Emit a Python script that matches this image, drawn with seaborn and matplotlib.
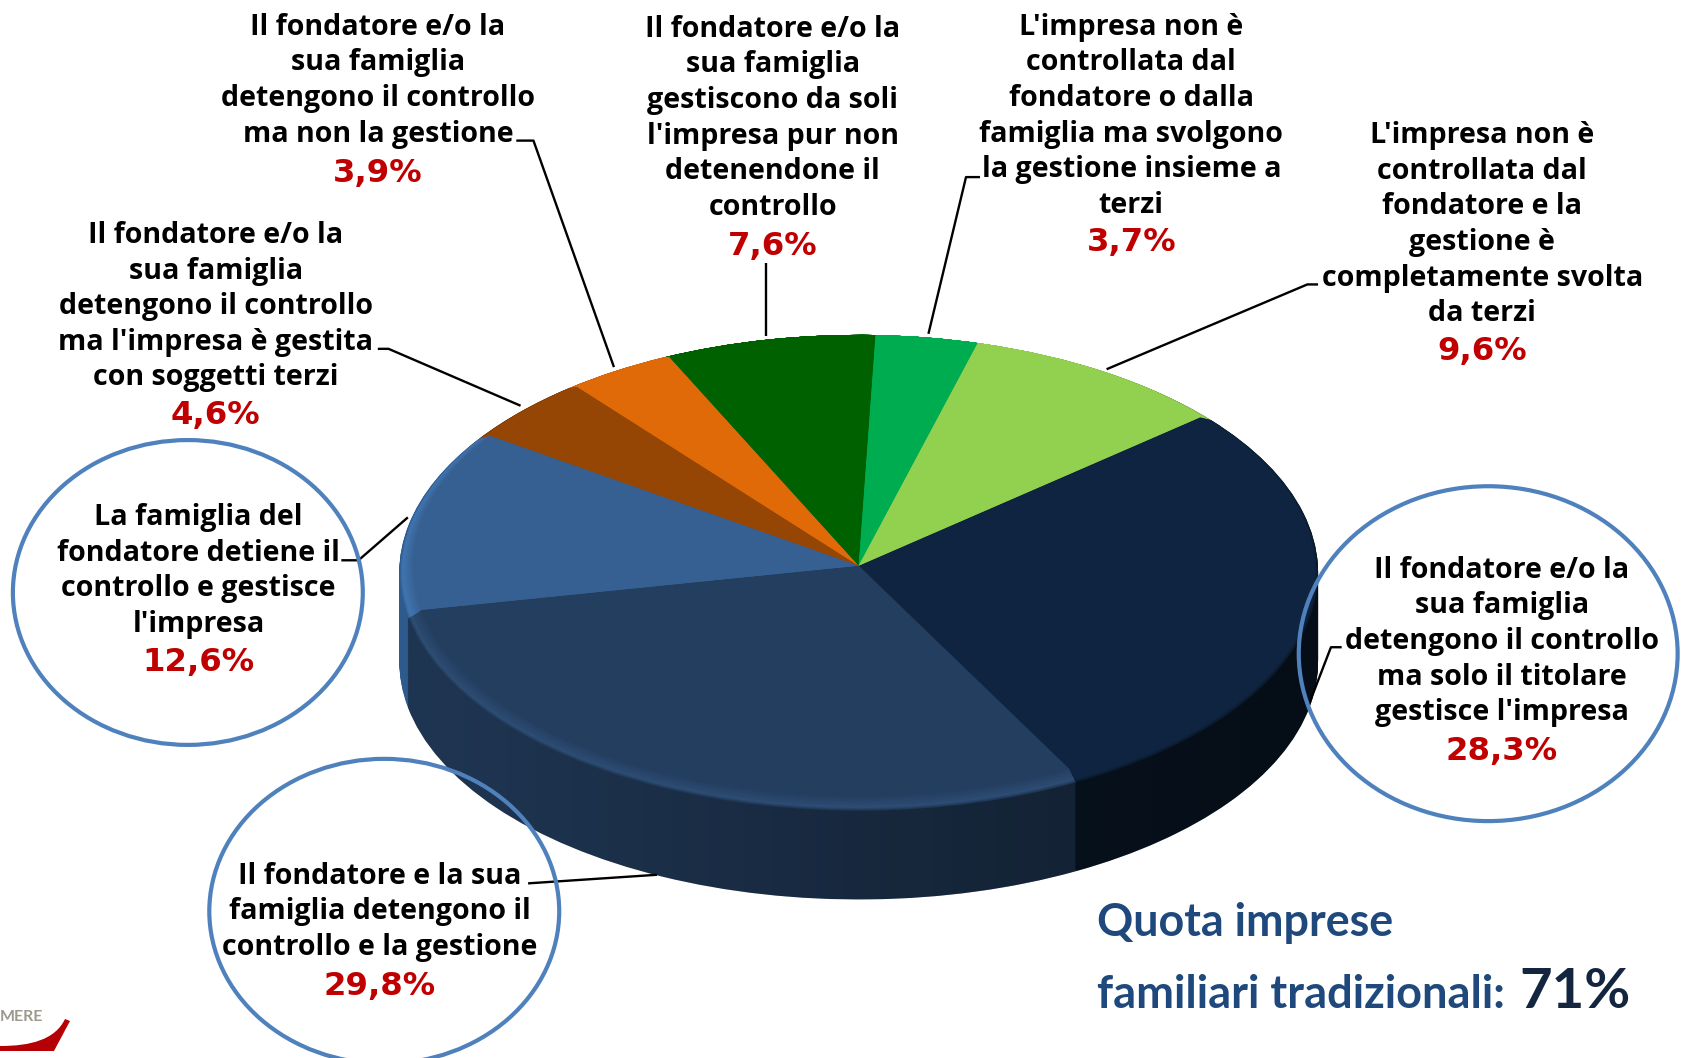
import numpy as np
import matplotlib
matplotlib.use("Agg")
import matplotlib.pyplot as plt
from matplotlib.patches import Ellipse, PathPatch
from matplotlib.path import Path
from matplotlib.colors import to_rgb, ListedColormap
import seaborn as sns

# ---------- data ----------
values = [28.3, 29.8, 12.6, 4.6, 3.9, 7.6, 3.7, 9.6]
pct_labels = ["28,3%", "29,8%", "12,6%", "4,6%", "3,9%", "7,6%", "3,7%", "9,6%"]
categories = [
    "Il fondatore e/o la\nsua famiglia\ndetengono il controllo\nma solo il titolare\ngestisce l'impresa",
    "Il fondatore e la sua\nfamiglia detengono il\ncontrollo e la gestione",
    "La famiglia del\nfondatore detiene il\ncontrollo e gestisce\nl'impresa",
    "Il fondatore e/o la\nsua famiglia\ndetengono il controllo\nma l'impresa è gestita\ncon soggetti terzi",
    "Il fondatore e/o la\nsua famiglia\ndetengono il controllo\nma non la gestione",
    "Il fondatore e/o la\nsua famiglia\ngestiscono da soli\nl'impresa pur non\ndetenendone il\ncontrollo",
    "L'impresa non è\ncontrollata dal\nfondatore o dalla\nfamiglia ma svolgono\nla gestione insieme a\nterzi",
    "L'impresa non è\ncontrollata dal\nfondatore e la\ngestione è\ncompletamente svolta\nda terzi",
]
top_colors = ["#0f2440", "#243e60", "#376092", "#954504", "#e06a08", "#006100", "#00ac50", "#92d050"]
side_colors = ["#0b1a2c", "#1f3653", "#2f5a8e", "#6e3303", "#a84f06", "#004700", "#007f3b", "#6b993b"]
rim_colors = ["#0f2440", "#2d4d74", "#4075b0", "#954504", "#e06a08", "#006100", "#00ac50", "#92d050"]

# ---------- layout (pixels of the full-size picture) ----------
W, H = 1683, 1058
S = 1683 / 1568
bev = 0.03
cx, cy, rx, ry = 800 * S, 527 * S, 428 * S, 215 * S / (1 - bev)
depth = 311 * S / ry - 1
start = 40.0
pitch = 33.2 * S
# centre x, first line y, percent y (reduced coordinates)
label_pos = [(1399, 529, 698), (354, 814, 917), (185, 480, 615), (201, 217, 385),
             (352, 23, 159), (720, 25, 227), (1054, 23, 224), (1381, 124, 325)]
leaders = [
    [(1250, 603), (1240, 603), (1218, 660)],
    [(492, 823), (612, 815)],
    [(318, 522), (334, 522), (380, 482)],
    [(352, 325), (362, 325), (485, 378)],
    [(481, 131), (497, 131), (572, 342)],
    [(714, 245), (714, 313)],
    [(913, 165), (900, 165), (865, 311)],
    [(1228, 265), (1218, 265), (1031, 344)],
]
rings = [(1386.5, 609, 176.5, 156), (358, 849, 163, 142), (175, 552, 163, 142)]

sns.set_theme(style="white")
plt.rcParams["font.family"] = ["Open Sans", "DejaVu Sans"]

fig = plt.figure(figsize=(W / 100, H / 100), dpi=100, facecolor="white")
pie_ax = fig.add_axes([0, 0, 1, 1])
ax = fig.add_axes([0, 0, 1, 1], facecolor="none")
ax.set_xlim(0, W); ax.set_ylim(H, 0); ax.axis("off")


def blend(c1, c2, t):
    a, b = np.array(to_rgb(c1)), np.array(to_rgb(c2))
    return tuple(a + (b - a) * t)


def layer(colors, dy, r, z):
    w, _ = pie_ax.pie(values, colors=colors, startangle=start, counterclock=False,
                      center=(0, dy), radius=r, normalize=True,
                      wedgeprops=dict(linewidth=0, antialiased=True))
    for p in w:
        p.set_zorder(z)


# side wall, deepest layer first
n_side = 70
for i in range(n_side):
    f = i / (n_side - 1)
    layer(side_colors, -depth + (depth - bev) * f, 1.0, i + 1)

# rounded edge between wall and top face
n_bevel = 16
for i in range(n_bevel):
    t = i / (n_bevel - 1)
    if t < 0.2:
        cols = [blend(s, m, t / 0.2) for s, m in zip(side_colors, rim_colors)]
    else:
        cols = [blend(m, c, (t - 0.2) / 0.8) for m, c in zip(rim_colors, top_colors)]
    layer(cols, -bev * (1 - t), 1 - bev * t, 200 + i)

pie_ax.set_aspect("auto")
pie_ax.axis("off")

# horizontal darkening on the wall
a = np.linspace(np.pi, 2 * np.pi, 200)
verts = np.r_[np.c_[np.cos(a), np.sin(a) - depth], [[1, -bev], [-1, -bev], [-1, -depth]]]
clip = PathPatch(Path(verts), transform=pie_ax.transData, facecolor="none", edgecolor="none")
pie_ax.add_patch(clip)
grad = np.linspace(0, 1, 256).reshape(1, -1)
shade = ListedColormap(np.c_[np.zeros((256, 3)), np.linspace(0.0, 0.5, 256)])
im = pie_ax.imshow(grad, cmap=shade, extent=(-1, 1, -1 - depth, -bev), aspect="auto", zorder=150)
im.set_clip_path(clip)
pie_ax.set_xlim(-cx / rx, (W - cx) / rx)
pie_ax.set_ylim(-(H - cy) / ry, cy / ry)

# leader lines
for pts in leaders:
    p = np.array(pts) * S
    ax.plot(p[:, 0], p[:, 1], color="black", lw=1.7, solid_capstyle="butt", zorder=3)

# labels
for cat, pct, (lx, ly, py) in zip(categories, pct_labels, label_pos):
    for i, line in enumerate(cat.split("\n")):
        ax.text(lx * S, ly * S + i * pitch + 10, line, ha="center", va="baseline",
                fontsize=20.6, fontweight="bold", color="black", zorder=5)
    ax.text(lx * S, py * S + 11, pct, ha="center", va="baseline", fontsize=23.3,
            fontweight="bold", color="#c00000", zorder=5, family=["DejaVu Sans"])

# rings
for x, y, a_, b_ in rings:
    ax.add_patch(Ellipse((x * S, y * S), 2 * a_ * S, 2 * b_ * S, fill=False,
                         edgecolor="#4f81bd", lw=3.0, zorder=6))

# share text
ax.text(1097, 936, "Quota imprese", fontsize=32.3, fontweight="bold", color="#1f497d",
        family=["Lato", "DejaVu Sans"], va="baseline", ha="left")
ax.text(1097, 1008, "familiari tradizionali:", fontsize=32.5, fontweight="bold", color="#1f497d",
        family=["Lato", "DejaVu Sans"], va="baseline", ha="left")
ax.text(1519, 1008, "71%", fontsize=40.5, fontweight="bold", color="#14263f",
        family=["Lato", "DejaVu Sans"], va="baseline", ha="left")

# corner logo
ax.text(43, 1021, "MERE", fontsize=11.5, fontweight="bold", color="#9c9a8c", ha="right",
        va="baseline", family=["Lato", "DejaVu Sans"])
logo = Path([(0, 1046), (30, 1046), (55, 1040), (65, 1019), (70, 1021), (54, 1051), (0, 1051), (0, 1046)],
            [Path.MOVETO, Path.CURVE4, Path.CURVE4, Path.CURVE4, Path.LINETO, Path.LINETO, Path.LINETO, Path.CLOSEPOLY])
ax.add_patch(PathPatch(logo, facecolor="#b50005", edgecolor="none"))

fig.savefig("out.png", dpi=100, facecolor="white")
